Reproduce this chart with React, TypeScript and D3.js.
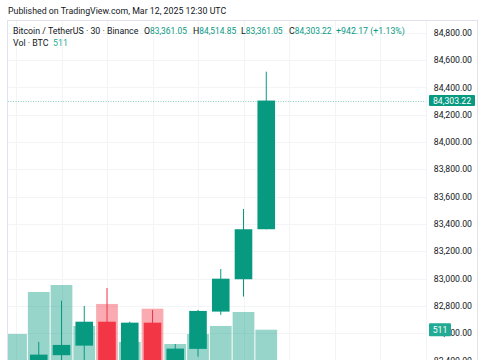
import React, { useEffect, useRef } from 'react';
import * as d3 from 'd3';

const opens = [82300, 82340, 82439, 82509, 82684, 82330, 82677, 82360, 82485, 82758, 82995, 83361.05];
const highs = [82390, 82536, 82838, 82799, 82931, 82684, 82770, 82521, 82770, 83070, 83510, 84514.85];
const lows = [82250, 82300, 82380, 82350, 82300, 82300, 82320, 82340, 82428, 82734, 82868, 83361.05];
const closes = [82340, 82443, 82514, 82684, 82330, 82677, 82360, 82487, 82763, 82999, 83361, 84303.22];
const volumes = [439, 1147, 1265, 574, 945, 304, 865, 270, 439, 574, 810, 511];
const priceTicks = [82400, 82600, 82800, 83000, 83200, 83400, 83600, 83800, 84000, 84200, 84400, 84600, 84800];

const UP = '#089981';
const DOWN = '#f23645';
const TEXT = '#131722';
const FONT = 'Roboto, "DejaVu Sans", sans-serif';

const Chart: React.FC = () => {
  const svgRef = useRef<SVGSVGElement>(null);

  useEffect(() => {
    if (!svgRef.current) return;
    const svg = d3.select(svgRef.current);
    svg.selectAll('*').remove();

    const plotLeft = 7;
    const plotRight = 426;
    const step = 22.75;

    const x = d3.scaleLinear().domain([0, 1]).range([16, 16 + step]);
    const y = d3.scaleLinear().domain([82400, 84800]).range([360.5, 32.7]);
    const yVol = d3.scaleLinear().domain([0, 511]).range([360, 329.7]);
    const fmt = d3.format(',.2f');

    // header
    svg.append('text').attr('x', 8).attr('y', 14).attr('font-size', 8.8)
      .attr('font-family', FONT).attr('fill', TEXT)
      .text('Published on TradingView.com, Mar 12, 2025 12:30 UTC');

    svg.append('rect').attr('x', 7.5).attr('y', 20.5).attr('width', 470).attr('height', 360)
      .attr('fill', 'white').attr('stroke', '#e0e3eb');

    const defs = svg.append('defs');
    defs.append('clipPath').attr('id', 'plot').append('rect')
      .attr('x', plotLeft + 1).attr('y', 21).attr('width', plotRight - plotLeft - 1).attr('height', 340);

    const g = svg.append('g').attr('clip-path', 'url(#plot)');

    // grid
    g.selectAll('line.h').data(priceTicks).enter().append('line')
      .attr('x1', plotLeft).attr('x2', plotRight)
      .attr('y1', (d) => Math.round(y(d)) + 0.5).attr('y2', (d) => Math.round(y(d)) + 0.5)
      .attr('stroke', '#f3f4f6');
    const vgrid = d3.range(0, 19, 2);
    g.selectAll('line.v').data(vgrid).enter().append('line')
      .attr('x1', (d) => Math.round(x(d)) + 0.5).attr('x2', (d) => Math.round(x(d)) + 0.5)
      .attr('y1', 21).attr('y2', 360)
      .attr('stroke', '#f3f4f6');

    // volume
    g.selectAll('rect.vol').data(volumes).enter().append('rect')
      .attr('x', (_, i) => x(i) - step / 2 + 0.5)
      .attr('width', step - 1)
      .attr('y', (d) => yVol(d))
      .attr('height', (d) => 360 - yVol(d) + 5)
      .attr('fill', (_, i) => (closes[i] >= opens[i] ? UP : DOWN))
      .attr('fill-opacity', 0.42);

    // candles
    const idx = d3.range(opens.length);
    g.selectAll('line.wick').data(idx).enter().append('line')
      .attr('x1', (i) => x(i)).attr('x2', (i) => x(i))
      .attr('y1', (i) => y(highs[i])).attr('y2', (i) => y(lows[i]))
      .attr('stroke', (i) => (closes[i] >= opens[i] ? UP : DOWN))
      .attr('stroke-width', 1);
    g.selectAll('rect.body').data(idx).enter().append('rect')
      .attr('x', (i) => x(i) - 8.8)
      .attr('width', 17.6)
      .attr('y', (i) => y(Math.max(opens[i], closes[i])))
      .attr('height', (i) => Math.max(1, Math.abs(y(opens[i]) - y(closes[i]))))
      .attr('fill', (i) => (closes[i] >= opens[i] ? UP : DOWN));

    // last price line
    const last = closes[closes.length - 1];
    svg.append('line').attr('x1', plotLeft + 1).attr('x2', plotRight)
      .attr('y1', Math.round(y(last)) + 0.5).attr('y2', Math.round(y(last)) + 0.5)
      .attr('stroke', UP).attr('stroke-opacity', 0.45).attr('stroke-dasharray', '1,1.5');

    // axis separator
    svg.append('line').attr('x1', plotRight + 0.5).attr('x2', plotRight + 0.5)
      .attr('y1', 21).attr('y2', 360).attr('stroke', '#f0f3fa');

    // price axis labels
    svg.append('g').selectAll('text').data(priceTicks).enter().append('text')
      .attr('x', 472).attr('y', (d) => y(d) + 3.2)
      .attr('text-anchor', 'end').attr('font-size', 8.7).attr('font-family', FONT)
      .attr('fill', TEXT).text((d) => fmt(d));

    // volume label
    const lastVol = volumes[volumes.length - 1];
    svg.append('rect').attr('x', 429).attr('y', yVol(lastVol) - 6.5).attr('width', 22).attr('height', 13)
      .attr('fill', '#22ab94').attr('rx', 1);
    svg.append('text').attr('x', 440).attr('y', yVol(lastVol) + 3.2).attr('text-anchor', 'middle')
      .attr('font-size', 8.7).attr('font-family', FONT).attr('fill', 'white').text(String(lastVol));

    // last price label
    svg.append('rect').attr('x', 429).attr('y', y(last) - 5.5).attr('width', 46).attr('height', 11)
      .attr('fill', UP).attr('rx', 1);
    svg.append('text').attr('x', 452).attr('y', y(last) + 3.2).attr('text-anchor', 'middle')
      .attr('font-size', 8.7).attr('font-family', FONT).attr('fill', 'white').text(fmt(last));

    // legend
    const l1 = svg.append('text').attr('y', 34.3).attr('font-size', 8.8)
      .attr('font-family', FONT).attr('fill', TEXT);
    const parts: [number, string, string][] = [
      [13, 'Bitcoin / TetherUS · 30 · Binance', TEXT],
      [144, 'O', TEXT],
      [193, 'H', TEXT],
      [241, 'L', TEXT],
      [289, 'C', TEXT],
      [336, '+942.17 (+1.13%)', UP],
    ];
    const vals = [fmt(opens[11]), fmt(highs[11]), fmt(lows[11]), fmt(closes[11])];
    parts.forEach(([px, t, c], k) => {
      l1.append('tspan').attr('x', px).attr('fill', c).text(t);
      if (k >= 1 && k <= 4) l1.append('tspan').attr('fill', UP).attr('font-size', 8.4).text(vals[k - 1]);
    });

    const l2 = svg.append('text').attr('y', 46).attr('font-size', 8.8).attr('font-family', FONT);
    l2.append('tspan').attr('x', 13).attr('fill', TEXT).text('Vol · BTC');
    l2.append('tspan').attr('x', 53).attr('fill', '#22ab94').text(String(lastVol));
  }, []);

  return <svg ref={svgRef} width={485} height={360} style={{ display: 'block' }}></svg>;
};

export default function App() {
  return (
    <div style={{ position: 'fixed', left: 0, top: 0, width: 485, height: 360, background: 'white', overflow: 'hidden' }}>
      <Chart />
    </div>
  );
}
